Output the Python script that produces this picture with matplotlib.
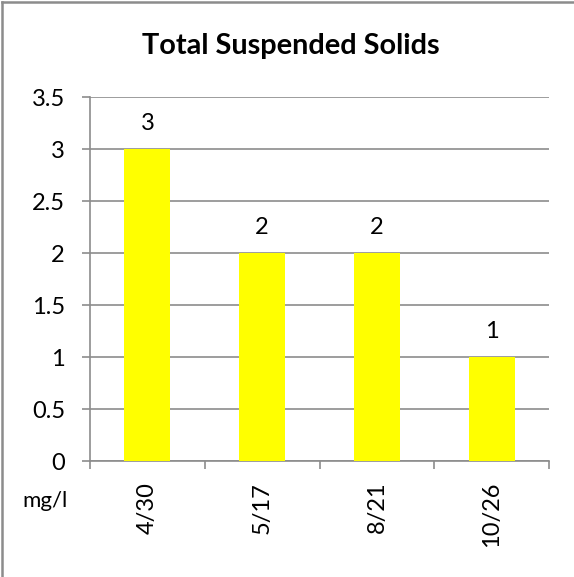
import matplotlib.pyplot as plt
from matplotlib.lines import Line2D

dates = ["4/30", "5/17", "8/21", "10/26"]
tss = [3, 2, 2, 1]
y_ticks = [0, 0.5, 1, 1.5, 2, 2.5, 3, 3.5]

plt.rcParams['font.family'] = ['Lato', 'DejaVu Sans']

fig = plt.figure(figsize=(5.74, 5.77), dpi=100)
ax = fig.add_axes([90 / 574, 1 - 461 / 577, 459 / 574, 364 / 577])

x = range(len(dates))
ax.bar(x, tss, width=0.4, color='#FFFF00', zorder=3)
for i, v in enumerate(tss):
    ax.annotate(str(v), (i, v), xytext=(0, 11), textcoords='offset points',
                ha='center', va='bottom', fontsize=17)

ax.set_xlim(-0.5, len(dates) - 0.5)
ax.set_ylim(0, 3.5)
ax.set_yticks(y_ticks)
ax.set_yticklabels([f"{t:g}" for t in y_ticks], fontsize=17)
ax.yaxis.grid(True, color='#8c8c8c', linewidth=1.2, zorder=0)

# category labels centred on bars, tick marks between categories
ax.set_xticks(list(x))
ax.set_xticklabels(dates, rotation=90, fontsize=17)
ax.tick_params(axis='x', length=0, pad=15)
ax.set_xticks([i - 0.5 for i in range(len(dates) + 1)], minor=True)
ax.tick_params(axis='x', which='minor', length=6, color='#8c8c8c', width=1.2)
ax.tick_params(axis='y', length=6, color='#8c8c8c', width=1.2, pad=12)

for s in ['top', 'right']:
    ax.spines[s].set_visible(False)
for s in ['left', 'bottom']:
    ax.spines[s].set_color('#8c8c8c')
    ax.spines[s].set_linewidth(1.2)

fig.text(291 / 574, 1 - 46 / 577, "Total Suspended Solids", ha='center', va='center',
         fontsize=20.8, fontweight='bold')
fig.text(45 / 574, 1 - 501 / 577, "mg/l", ha='center', va='center', fontsize=16)

# outer frame: only left and top edges show
fig.add_artist(Line2D([0.004, 0.004], [0, 0.996], transform=fig.transFigure,
                      color='#8c8c8c', linewidth=1.8))
fig.add_artist(Line2D([0.004, 1], [0.996, 0.996], transform=fig.transFigure,
                      color='#8c8c8c', linewidth=1.8))

fig.savefig("out.png", dpi=100)
